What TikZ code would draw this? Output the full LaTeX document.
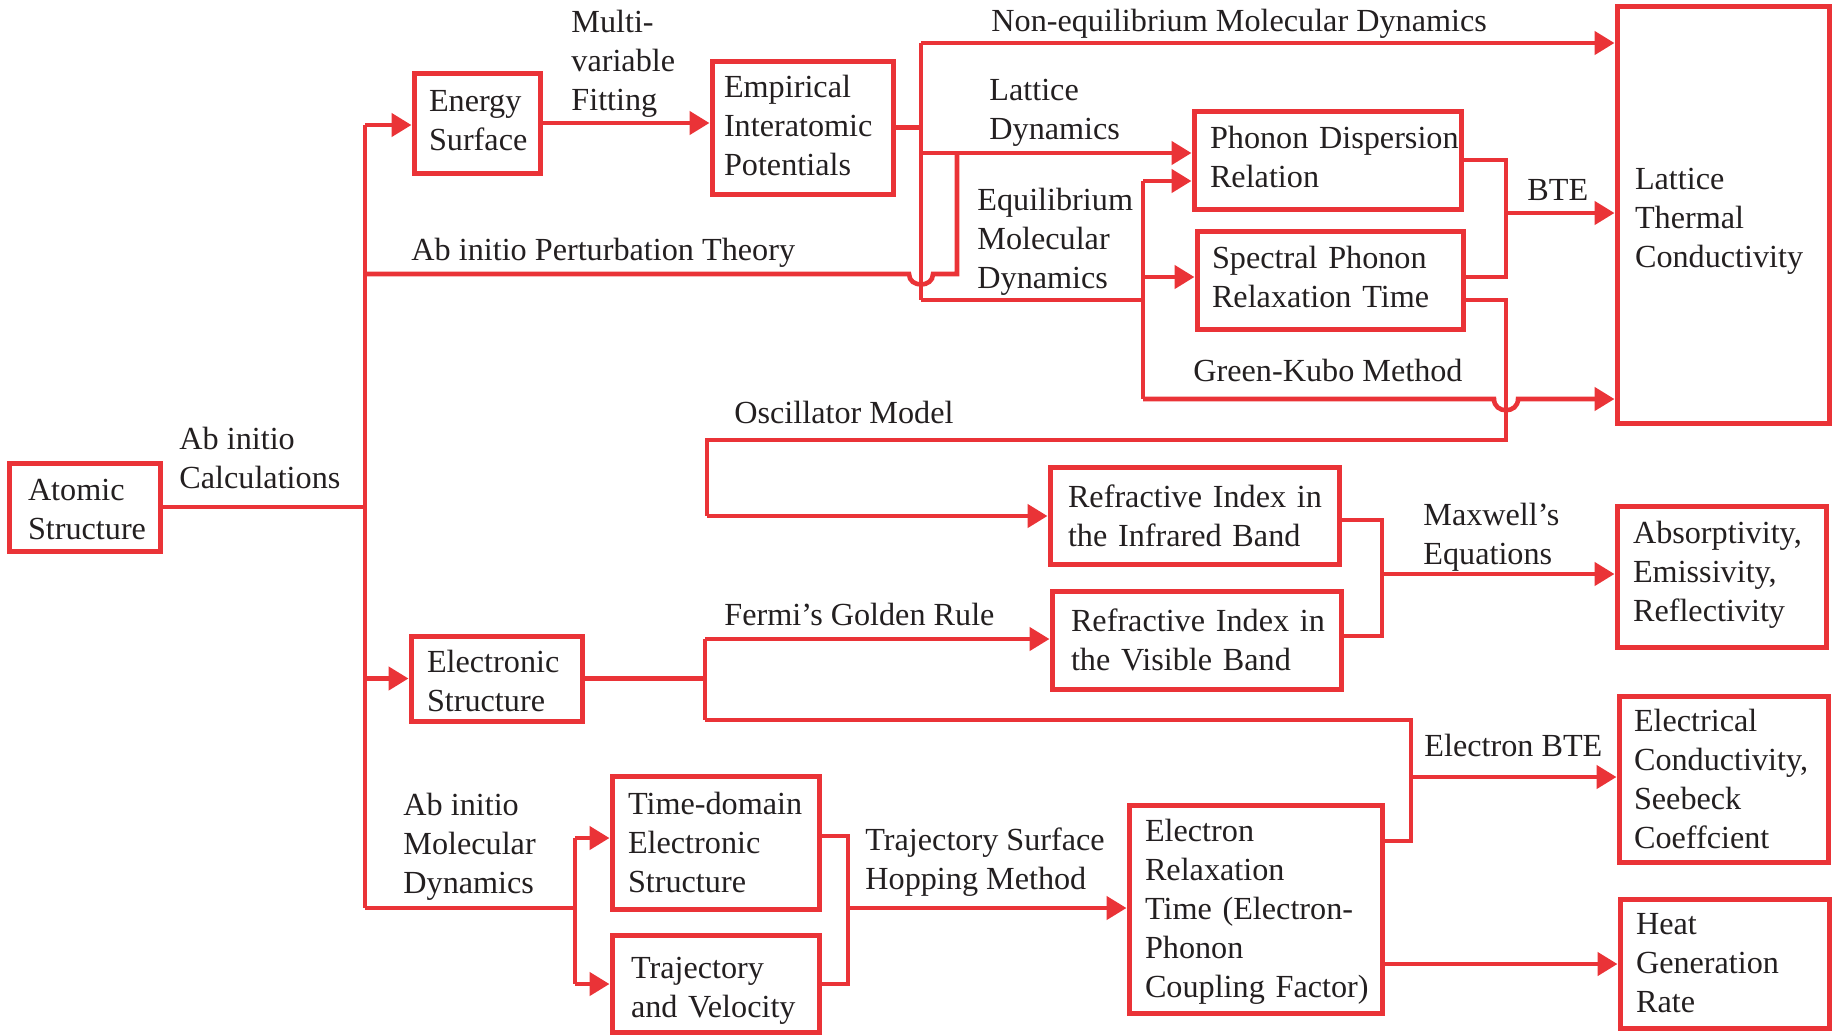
\documentclass[tikz,border=0pt]{standalone}
\usepackage{fontspec}
\setmainfont{Liberation Serif}
\usetikzlibrary{arrows.meta}
\definecolor{lred}{RGB}{234,51,55}
\definecolor{txt}{RGB}{35,31,32}
\newcommand\Lm[1]{\mbox{#1}}
\newcommand\Up[1]{\par\vspace*{#1pt}}
\begin{document}
\begin{tikzpicture}[x=0.5pt,y=-0.5pt,
  every node/.style={font=\fontsize{16.1}{19.5}\selectfont, text=txt},
  bx/.style={draw=lred, line width=2.5pt, rectangle, align=left, inner ysep=1pt},
  lbl/.style={inner sep=0pt, align=left, anchor=west},
  conn/.style={draw=lred, line width=2.3pt},
  arr/.style={conn, -{Triangle[length=10pt,width=11.5pt]}},
]
\useasboundingbox (0,0) rectangle (1835,1035);

% boxes
\node[bx, text width=56.5pt, inner xsep=9.5pt, minimum height=44pt] (atomic) at (84.5,507) {\Lm{Atomic}\\\Lm{Structure}\Up{-2}};
\node[bx, text width=48pt, inner xsep=7.5pt, minimum height=50pt] (energy) at (477,123) {\Lm{Energy}\\\Lm{Surface}\Up{2}};
\node[bx, text width=78.5pt, inner xsep=6pt, minimum height=66.5pt] (empirical) at (802.5,127.5) {\Lm{Empirical}\\\Lm{Interatomic}\\\Lm{Potentials}\Up{2}};
\node[bx, text width=117.5pt, inner xsep=8pt, minimum height=49pt] (phonon) at (1327.5,160) {\Lm{Phonon Dispersion}\\\Lm{Relation}\Up{3.5}};
\node[bx, text width=118pt, inner xsep=7.5pt, minimum height=49pt] (spectral) at (1330,280) {\Lm{Spectral Phonon}\\\Lm{Relaxation Time}\Up{3.5}};
\node[bx, text width=88pt, inner xsep=9pt, minimum height=208.5pt] (lattice) at (1723,214.5) {\Lm{Lattice}\\\Lm{Thermal}\\\Lm{Conductivity}\Up{-7}};
\node[bx, text width=126.5pt, inner xsep=9pt, minimum height=48.5pt] (refir) at (1194.5,515.5) {\Lm{Refractive Index in}\\\Lm{the Infrared Band}};
\node[bx, text width=88.5pt, inner xsep=8pt, minimum height=70.5pt] (absorb) at (1721.5,576.5) {\Lm{Absorptivity,}\\\Lm{Emissivity,}\\\Lm{Reflectivity}\Up{2}};
\node[bx, text width=69.5pt, inner xsep=8pt, minimum height=42.5pt] (electronic) at (496.5,678.5) {\Lm{Electronic}\\\Lm{Structure}\Up{-2}};
\node[bx, text width=125.5pt, inner xsep=9.5pt, minimum height=49pt] (refvis) at (1196.5,640) {\Lm{Refractive Index in}\\\Lm{the Visible Band}};
\node[bx, text width=89.5pt, inner xsep=7.5pt, minimum height=83pt] (elec) at (1723.5,779) {\Lm{Electrical}\\\Lm{Conductivity,}\\\Lm{Seebeck}\\\Lm{Coeffcient}};
\node[bx, text width=87.5pt, inner xsep=8pt, minimum height=66.5pt] (tdes) at (715.5,842.5) {\Lm{Time-domain}\\\Lm{Electronic}\\\Lm{Structure}};
\node[bx, text width=84.5pt, inner xsep=9.5pt, minimum height=48.5pt] (traj) at (715.5,983.5) {\Lm{Trajectory}\\\Lm{and Velocity}\Up{-7}};
\node[bx, text width=110.5pt, inner xsep=8pt, minimum height=104pt] (ert) at (1255.5,909) {\Lm{Electron}\\\Lm{Relaxation}\\\Lm{Time (Electron-}\\\Lm{Phonon}\\\Lm{Coupling Factor)}\Up{-3}};
\node[bx, text width=88.5pt, inner xsep=8pt, minimum height=64.5pt] (heat) at (1724.5,963.5) {\Lm{Heat}\\\Lm{Generation}\\\Lm{Rate}};

% labels
\node[lbl] (lAbCalc) at (179,458) {Ab initio\\Calculations};
\node[lbl] (lMulti) at (571,64) {Multi-\\variable\\Fitting};
\node[lbl] (lNEMD) at (991,24) {Non-equilibrium Molecular Dynamics};
\node[lbl] (lLD) at (989,113) {Lattice\\Dynamics};
\node[lbl] (lEMD) at (977,242) {Equilibrium\\Molecular\\Dynamics};
\node[lbl] (lPT) at (411,253) {Ab initio Perturbation Theory};
\node[lbl] (lBTE) at (1527,190) {BTE};
\node[lbl] (lGK) at (1193,370) {Green-Kubo Method};
\node[lbl] (lOsc) at (734,412) {Oscillator Model};
\node[lbl] (lMax) at (1423,537) {Maxwell’s\\Equations};
\node[lbl] (lFermi) at (724,614) {Fermi’s Golden Rule};
\node[lbl] (lEBTE) at (1424,745) {Electron BTE};
\node[lbl] (lAIMD) at (403,847) {Ab initio\\Molecular\\Dynamics};
\node[lbl] (lTSH) at (865,862) {Trajectory Surface\\Hopping Method};

% coordinates
\coordinate (tr) at (365,0);
\coordinate (tTop) at (365,125);
\coordinate (tBot) at (365,908);
\coordinate (pt0) at (365,274);
\coordinate (j1) at (921,0);
\coordinate (nemd) at (921,43);
\coordinate (ld) at (921,153);
\coordinate (emd) at (921,300);
\coordinate (e1) at (1143,181);
\coordinate (e2) at (1143,277);
\coordinate (e3) at (1143,399);
\coordinate (b1) at (1506,160);
\coordinate (b2) at (1506,277);
\coordinate (b3) at (1506,213);
\coordinate (o1) at (1506,300);
\coordinate (o2) at (1506,440);
\coordinate (o3) at (707,440);
\coordinate (o4) at (707,516);
\coordinate (f1) at (705,639);
\coordinate (f2) at (705,720);
\coordinate (f3) at (1411,720);
\coordinate (f4) at (1411,841);
\coordinate (f5) at (1411,777);
\coordinate (m1) at (1382,520);
\coordinate (m2) at (1382,636);
\coordinate (m3) at (1382,574);
\coordinate (a1) at (575,838);
\coordinate (a2) at (575,984);
\coordinate (s1) at (848,836);
\coordinate (s2) at (848,984);
\coordinate (s3) at (848,908);
\coordinate (h1) at (1382,964);

% trunk
\draw[conn] (atomic.east) -- (atomic.east -| tr);
\draw[conn] (tTop) -- (tBot);
\draw[arr] (tTop) -- (tTop -| energy.west);
\draw[arr] (electronic.west -| tr) -- (electronic.west);
\draw[arr] (energy.east) -- (energy.east -| empirical.west);

% perturbation theory with hop
\draw[conn] (pt0) -- (909,274) .. controls (909,288) and (933,288) .. (933,274) -- (957,274) -- (957,153);

% empirical hub
\draw[conn] (empirical.east) -- (empirical.east -| j1);
\draw[conn] (nemd) -- (emd);
\draw[arr] (nemd) -- (nemd -| lattice.west);
\draw[arr] (ld) -- (ld -| phonon.west);
\draw[conn] (emd) -- (emd -| e1);
\draw[conn] (e1) -- (e3);
\draw[arr] (e1) -- (e1 -| phonon.west);
\draw[arr] (e2) -- (e2 -| spectral.west);
\draw[arr] (e3) -- (1494,399) .. controls (1494,414) and (1518,414) .. (1518,399) -- (e3 -| lattice.west);

% BTE
\draw[conn] (phonon.east) -- (b1) -- (b2) -- (b2 -| spectral.east);
\draw[arr] (b3) -- (b3 -| lattice.west);

% oscillator model
\draw[conn] (o1 -| spectral.east) -- (o1) -- (o2) -- (o3) -- (o4);
\draw[arr] (o4) -- (o4 -| refir.west);

% Fermi / electron BTE
\draw[conn] (electronic.east) -- (electronic.east -| f1);
\draw[conn] (f1) -- (f2);
\draw[arr] (f1) -- (f1 -| refvis.west);
\draw[conn] (f2) -- (f3) -- (f4) -- (f4 -| ert.east);
\draw[arr] (f5) -- (f5 -| elec.west);

% Maxwell
\draw[conn] (m1 -| refir.east) -- (m1) -- (m2) -- (m2 -| refvis.east);
\draw[arr] (m3) -- (m3 -| absorb.west);

% AIMD
\draw[conn] (tBot) -- (tBot -| a1);
\draw[conn] (a1) -- (a2);
\draw[arr] (a1) -- (a1 -| tdes.west);
\draw[arr] (a2) -- (a2 -| traj.west);

% TSH
\draw[conn] (s1 -| tdes.east) -- (s1) -- (s2) -- (s2 -| traj.east);
\draw[arr] (s3) -- (s3 -| ert.west);

% heat
\draw[arr] (h1 -| ert.east) -- (h1 -| heat.west);
\end{tikzpicture}
\end{document}
